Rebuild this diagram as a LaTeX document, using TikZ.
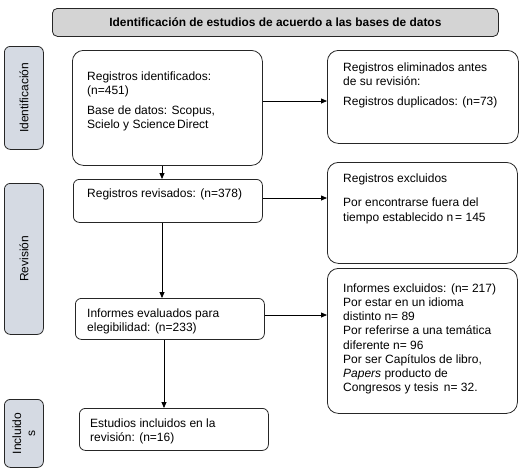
\documentclass[tikz,border=0pt]{standalone}
\usepackage{fontspec}
\setmainfont{Liberation Sans}
\usetikzlibrary{arrows.meta}
\definecolor{titlegray}{HTML}{D4D4D4}
\definecolor{sideblue}{HTML}{D5DAE3}
\newcommand{\tstrut}{\rule{0pt}{10pt}}
\begin{document}
\begin{tikzpicture}[x=1pt,y=-1pt,
  bigbox/.style={draw=black!85, line width=0.8pt, rounded corners=11pt, inner sep=0pt},
  smallbox/.style={draw=black!85, line width=0.8pt, rounded corners=6pt, inner sep=0pt},
  sidebox/.style={draw=black!85, line width=0.8pt, rounded corners=6pt, fill=sideblue, inner sep=0pt},
  txt/.style={font=\fontsize{12}{14.2}\selectfont, align=left, inner sep=0pt, anchor=north west},
  sidetxt/.style={font=\fontsize{12}{14}\selectfont, align=center, rotate=90, inner sep=0pt},
  arr/.style={draw=black, line width=0.8pt, -{Triangle[length=6pt,width=5pt]}}
]
\useasboundingbox (0,0) rectangle (527,475);

% title
\node[draw=black!85, line width=0.8pt, rounded corners=5pt, fill=titlegray, minimum width=446pt, minimum height=28pt, inner sep=0pt, anchor=north west] (title) at (52,8) {};
\node[font=\bfseries\fontsize{11.9}{13}\selectfont, inner sep=0pt] (titletxt) at (title.center) {Identificación de estudios de acuerdo a las bases de datos};

% side labels
\node[sidebox, minimum width=39pt, minimum height=103pt, anchor=north west] (sid) at (4,46) {};
\node[sidetxt] (sidtxt) at (sid.center) {Identificación};
\node[sidebox, minimum width=39pt, minimum height=151pt, anchor=north west] (srev) at (4,183) {};
\node[sidetxt] (srevtxt) at (srev.center) {Revisión};
\node[sidebox, minimum width=39pt, minimum height=68pt, anchor=north west] (sinc) at (4,399) {};
\node[sidetxt] (sinctxt) at (sinc.center) {Incluido\\s};

% boxes (text nodes: top = first baseline - 10)
\node[bigbox, minimum width=190pt, minimum height=115pt, anchor=north west] (b1) at (72,50) {};
\node[txt] (b1t) at (87,70) {\tstrut Registros identificados:\\(n=451)\\[6pt]Base de datos: Scopus,\\Scielo y Science\,Direct};

\node[bigbox, minimum width=191pt, minimum height=93pt, anchor=north west] (b2) at (327,50) {};
\node[txt] (b2t) at (343,61) {\tstrut Registros eliminados antes\\de su revisión:\\[6pt]Registros duplicados: (n=73)};

\node[smallbox, minimum width=189pt, minimum height=43pt, anchor=north west] (b3) at (73,179) {};
\node[txt] (b3t) at (87,187) {\tstrut Registros revisados: (n=378)};

\node[bigbox, minimum width=190pt, minimum height=101pt, anchor=north west] (b4) at (327,162) {};
\node[txt] (b4t) at (343,172) {\tstrut Registros excluidos\\[10.5pt]Por encontrarse fuera del\\tiempo establecido n\,= 145};

\node[smallbox, minimum width=189pt, minimum height=41pt, anchor=north west] (b5) at (75,298) {};
\node[txt] (b5t) at (87,307) {\tstrut Informes evaluados para\\elegibilidad: (n=233)};

\node[bigbox, minimum width=190pt, minimum height=145pt, anchor=north west] (b6) at (327,268) {};
\node[txt] (b6t) at (343,282) {\tstrut Informes excluidos: (n= 217)\\Por estar en un idioma\\distinto n= 89\\Por referirse a una temática\\diferente n= 96\\Por ser Capítulos de libro,\\\textit{Papers} producto de\\Congresos y tesis\, n= 32.};

\node[smallbox, minimum width=189pt, minimum height=42pt, anchor=north west] (b7) at (79,408) {};
\node[txt] (b7t) at (90,417) {\tstrut Estudios incluidos en la\\revisión: (n=16)};

% arrows
\draw[arr] (b1.east |- 0,101) -- (b2.west |- 0,101);
\draw[arr] (162,0 |- b1.south) -- (162,0 |- b3.north);
\draw[arr] (b3.east |- 0,198) -- (b4.west |- 0,198);
\draw[arr] (162,0 |- b3.south) -- (162,0 |- b5.north);
\draw[arr] (b5.east |- 0,315) -- (b6.west |- 0,315);
\draw[arr] (164,0 |- b5.south) -- (164,0 |- b7.north);
\end{tikzpicture}
\end{document}
